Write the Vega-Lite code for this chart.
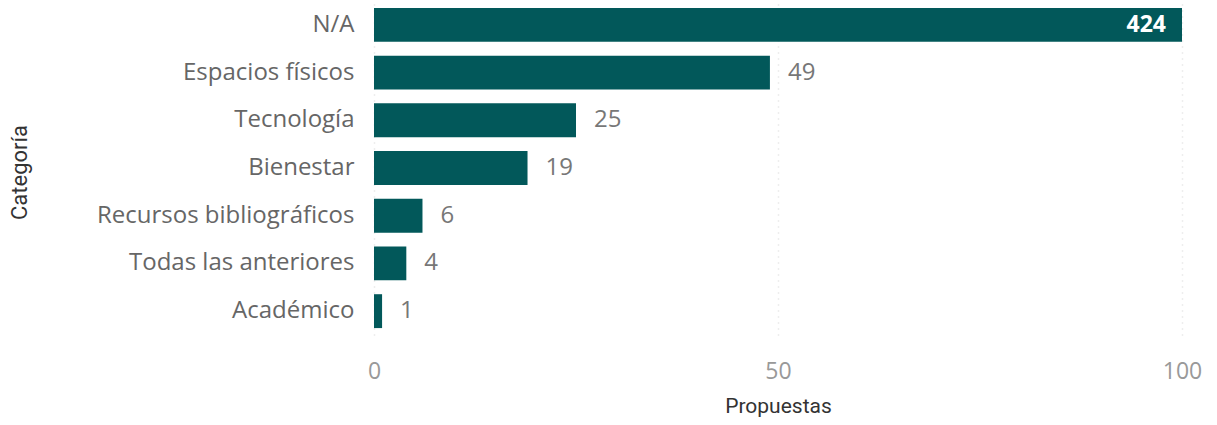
{
  "$schema": "https://vega.github.io/schema/vega-lite/v6.json",
  "autosize": "none",
  "width": 808,
  "height": 334,
  "padding": {"left": 374, "top": 1, "right": 35, "bottom": 90},
  "background": "white",
  "config": {"view": {"stroke": null}},
  "data": {
    "values": [
      {"Categoria": "N/A", "Propuestas": 424},
      {"Categoria": "Espacios físicos", "Propuestas": 49},
      {"Categoria": "Tecnología", "Propuestas": 25},
      {"Categoria": "Bienestar", "Propuestas": 19},
      {"Categoria": "Recursos bibliográficos", "Propuestas": 6},
      {"Categoria": "Todas las anteriores", "Propuestas": 4},
      {"Categoria": "Académico", "Propuestas": 1}
    ]
  },
  "encoding": {
    "y": {
      "field": "Categoria",
      "type": "nominal",
      "sort": null,
      "scale": {"paddingInner": 0.29, "paddingOuter": 0.145},
      "axis": {
        "title": "Categoría",
        "titleFont": "Roboto",
        "titleFontSize": 22,
        "titleFontWeight": "normal",
        "titleColor": "#333333",
        "titleAngle": -90,
        "titleX": -343,
        "titleY": 171,
        "titleAlign": "center",
        "titleBaseline": "bottom",
        "labelFont": "Open Sans",
        "labelFontSize": 24,
        "labelColor": "#666666",
        "labelPadding": 20,
        "ticks": false,
        "domain": false,
        "labelLimit": 400
      }
    },
    "x": {
      "field": "Propuestas",
      "type": "quantitative",
      "scale": {"domain": [0, 100], "clamp": true, "nice": false},
      "axis": {
        "title": "Propuestas",
        "titleFont": "Roboto",
        "titleFontSize": 21,
        "titleFontWeight": "normal",
        "titleColor": "#333333",
        "titlePadding": 12,
        "values": [0, 50, 100],
        "labelFlush": false,
        "labelFont": "Open Sans",
        "labelFontSize": 23,
        "labelColor": "#999999",
        "labelPadding": 25,
        "ticks": false,
        "domain": false,
        "grid": true,
        "gridColor": "#dddddd",
        "gridDash": [1, 5],
        "gridWidth": 1.5
      }
    }
  },
  "layer": [
    {"mark": {"type": "bar", "color": "#02585A"}},
    {
      "transform": [{"filter": "datum.Propuestas < 100"}],
      "mark": {"type": "text", "align": "left", "dx": 18, "font": "Open Sans", "fontSize": 24, "color": "#777777", "baseline": "middle"},
      "encoding": {"text": {"field": "Propuestas", "type": "quantitative"}}
    },
    {
      "transform": [{"filter": "datum.Propuestas >= 100"}],
      "mark": {"type": "text", "align": "right", "dx": -16, "font": "Open Sans", "fontSize": 23, "fontWeight": "bold", "color": "white", "baseline": "middle"},
      "encoding": {"text": {"field": "Propuestas", "type": "quantitative"}}
    }
  ]
}
